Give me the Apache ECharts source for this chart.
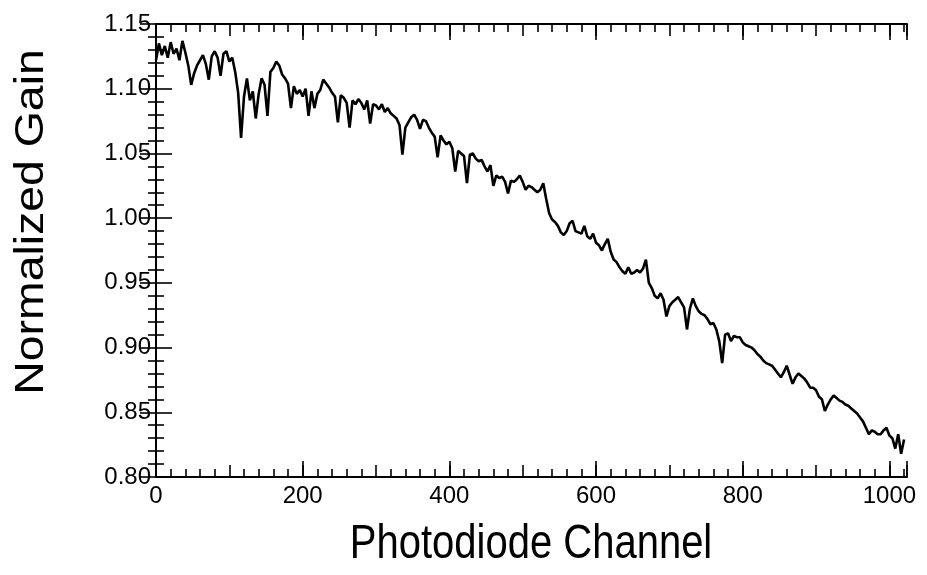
<!DOCTYPE html>
<html>
<head>
<meta charset="utf-8">
<script src="https://cdn.jsdelivr.net/npm/echarts@6/dist/echarts.min.js"></script>
<style>html,body{margin:0;padding:0;background:#fff}#c{width:927px;height:575px}</style>
</head>
<body>
<div id="c"></div>
<script>
const xTitle = 'Photodiode Channel';
const yTitle = 'Normalized Gain';
const xTickLabels = [0, 200, 400, 600, 800, 1000];
const channels = [
0,4,8,12,16,20,24,28,32,36,40,44,48,52,56,60,64,68,72,76,80,84,88,92,96,100,104,108,112,116,
120,124,128,132,136,140,144,148,152,156,160,164,168,172,176,180,184,188,192,196,200,204,208,212,216,220,224,228,232,236,
240,244,248,252,256,260,264,268,272,276,280,284,288,292,296,300,304,308,312,316,320,324,328,332,336,340,344,348,352,356,
360,364,368,372,376,380,384,388,392,396,400,404,408,412,416,420,424,428,432,436,440,444,448,452,456,460,464,468,472,476,
480,484,488,492,496,500,504,508,512,516,520,524,528,532,536,540,544,548,552,556,560,564,568,572,576,580,584,588,592,596,
600,604,608,612,616,620,624,628,632,636,640,644,648,652,656,660,664,668,672,676,680,684,688,692,696,700,704,708,712,716,
720,724,728,732,736,740,744,748,752,756,760,764,768,772,776,780,784,788,792,796,800,804,808,812,816,820,824,828,832,836,
840,844,848,852,856,860,864,868,872,876,880,884,888,892,896,900,904,908,912,916,920,924,928,932,936,940,944,948,952,956,
960,964,968,972,976,980,984,988,992,996,1000,1004,1008,1012,1016,1020];
const gain = [
1.122,1.135,1.126,1.133,1.124,1.136,1.127,1.131,1.122,1.137,
1.128,1.118,1.103,1.112,1.118,1.122,1.126,1.119,1.107,1.125,
1.129,1.124,1.110,1.127,1.129,1.121,1.124,1.113,1.097,1.062,
1.094,1.108,1.091,1.098,1.077,1.096,1.108,1.103,1.079,1.113,
1.116,1.121,1.118,1.111,1.108,1.104,1.085,1.102,1.096,1.099,
1.094,1.100,1.079,1.098,1.085,1.096,1.099,1.107,1.104,1.101,
1.097,1.094,1.074,1.095,1.093,1.089,1.070,1.091,1.088,1.092,
1.089,1.084,1.091,1.073,1.088,1.087,1.084,1.088,1.082,1.085,
1.081,1.079,1.077,1.072,1.049,1.070,1.074,1.078,1.080,1.076,
1.069,1.076,1.075,1.070,1.066,1.063,1.047,1.064,1.060,1.057,
1.059,1.054,1.036,1.052,1.050,1.048,1.027,1.049,1.050,1.046,
1.044,1.045,1.040,1.036,1.041,1.025,1.033,1.031,1.032,1.028,
1.019,1.029,1.028,1.030,1.033,1.028,1.022,1.025,1.024,1.022,
1.020,1.022,1.027,1.015,1.004,0.999,0.997,0.994,0.989,0.987,
0.990,0.996,0.998,0.990,0.989,0.988,0.994,0.986,0.984,0.988,
0.981,0.979,0.975,0.980,0.984,0.974,0.968,0.966,0.962,0.959,
0.957,0.962,0.957,0.958,0.960,0.958,0.961,0.968,0.950,0.946,
0.940,0.938,0.942,0.937,0.924,0.932,0.935,0.937,0.939,0.935,
0.931,0.914,0.930,0.938,0.932,0.928,0.926,0.925,0.922,0.918,
0.919,0.914,0.905,0.888,0.910,0.911,0.905,0.909,0.908,0.908,
0.904,0.902,0.901,0.900,0.898,0.895,0.893,0.890,0.888,0.887,
0.886,0.883,0.880,0.877,0.881,0.886,0.879,0.872,0.877,0.880,
0.878,0.876,0.873,0.869,0.869,0.867,0.862,0.860,0.851,0.856,
0.860,0.863,0.861,0.859,0.858,0.856,0.855,0.853,0.851,0.849,
0.846,0.843,0.838,0.833,0.836,0.835,0.833,0.833,0.836,0.838,
0.832,0.830,0.822,0.833,0.818,0.829];

const FONT = '"Liberation Sans", Arial, Helvetica, sans-serif';
const chart = echarts.init(document.getElementById('c'));
const xBase = {type:'value', min:0, max:1024, splitLine:{show:false}};
const yBase = {type:'value', min:0.80, max:1.15, interval:0.05, splitLine:{show:false}};
const lineStyle = {color:'#000', width:2};
const tickStyle = {color:'#000', width:1.6};
chart.setOption({
  animation:false,
  backgroundColor:'#fff',
  grid:{left:156, right:20, top:24, bottom:98, containLabel:false},
  graphic:[
    {type:'text', x:531, y:545, scaleY:1.18,
      style:{text:xTitle, fill:'#000', font:'40px ' + FONT, align:'center', verticalAlign:'middle'}},
    {type:'text', x:12, y:222, rotation:Math.PI/2, scaleX:1.16,
      style:{text:yTitle, fill:'#000', font:'40px ' + FONT, align:'center', verticalAlign:'top'}}
  ],
  xAxis:[
    Object.assign({}, xBase, {position:'bottom', interval:100,
      axisLine:{show:true, lineStyle},
      axisTick:{show:true, inside:true, length:12, lineStyle:tickStyle},
      minorTick:{show:true, splitNumber:5, length:8, lineStyle:tickStyle},
      axisLabel:{show:true, color:'#000', fontFamily:FONT, fontSize:24, margin:7,
        formatter:v => xTickLabels.indexOf(v) >= 0 ? String(v) : ''}}),
    Object.assign({}, xBase, {position:'top', interval:100,
      axisLine:{show:true, lineStyle},
      axisTick:{show:true, inside:true, length:12, lineStyle:tickStyle},
      minorTick:{show:true, splitNumber:5, length:8, lineStyle:tickStyle},
      axisLabel:{show:false}}),
    Object.assign({}, xBase, {position:'bottom', interval:200,
      axisLine:{show:false},
      axisTick:{show:true, inside:true, length:16, lineStyle:tickStyle},
      axisLabel:{show:false}}),
    Object.assign({}, xBase, {position:'top', interval:200,
      axisLine:{show:false},
      axisTick:{show:true, inside:true, length:16, lineStyle:tickStyle},
      axisLabel:{show:false}})
  ],
  yAxis:[
    Object.assign({}, yBase, {position:'left',
      axisLine:{show:true, lineStyle},
      axisTick:{show:true, inside:true, length:16, lineStyle:tickStyle},
      minorTick:{show:true, splitNumber:5, length:8, lineStyle:tickStyle},
      axisLabel:{show:true, color:'#000', fontFamily:FONT, fontSize:24, margin:5,
        formatter:v => v.toFixed(2)}}),
    Object.assign({}, yBase, {position:'right',
      axisLine:{show:true, lineStyle},
      axisTick:{show:true, inside:true, length:16, lineStyle:tickStyle},
      minorTick:{show:true, splitNumber:5, length:8, lineStyle:tickStyle},
      axisLabel:{show:false}})
  ],
  series:[{
    type:'line', xAxisIndex:0, yAxisIndex:0,
    data: channels.map((c,i) => [c, gain[i]]),
    showSymbol:false, symbol:'none',
    lineStyle:{color:'#000', width:2.6},
    clip:true
  }]
});
</script>
</body>
</html>
